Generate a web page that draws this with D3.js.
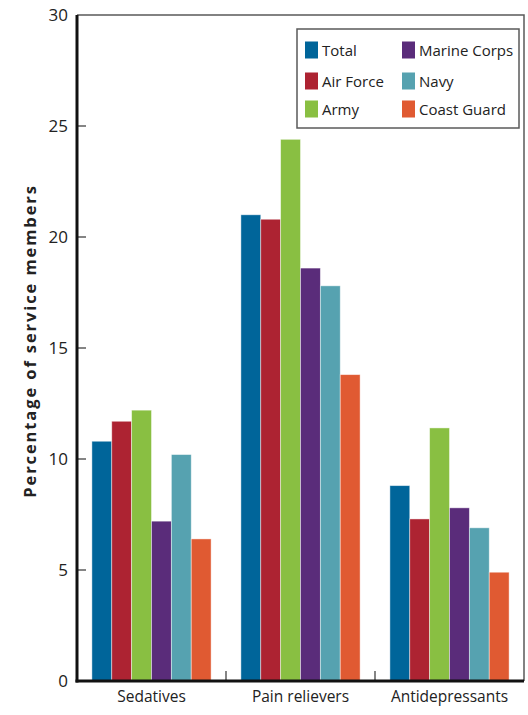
<!DOCTYPE html>
<html>
<head>
<meta charset="utf-8">
<script src="https://cdn.jsdelivr.net/npm/d3@7"></script>
<style>
  html, body { margin: 0; padding: 0; background: #fff; }
  svg { display: block; font-family: "Open Sans", "DejaVu Sans", sans-serif; }
</style>
</head>
<body>
<svg id="chart" width="528" height="715"></svg>
<script>
// Prescription drug misuse by branch of service (percent of service members)
const categories = ["Sedatives", "Pain relievers", "Antidepressants"];
const branches = ["Total", "Air Force", "Army", "Marine Corps", "Navy", "Coast Guard"];
const colors = ["#00659a", "#ad2332", "#89bf42", "#5a2c7a", "#56a2b0", "#e05a32"];

const total       = [10.8, 21.0, 8.8];
const airForce    = [11.7, 20.8, 7.3];
const army        = [12.2, 24.4, 11.4];
const marineCorps = [7.2, 18.6, 7.8];
const navy        = [10.2, 17.8, 6.9];
const coastGuard  = [6.4, 13.8, 4.9];

const yTicks = [0, 5, 10, 15, 20, 25, 30];

const series = [total, airForce, army, marineCorps, navy, coastGuard];

const svg = d3.select("#chart");
const plotLeft = 77, plotRight = 524, plotTop = 15, plotBottom = 681;

const x0 = d3.scaleBand().domain(categories).range([plotLeft, plotRight])
  .paddingInner(0.2).paddingOuter(0.1);
const x1 = d3.scaleBand().domain(branches).range([0, x0.bandwidth()]);
const y = d3.scaleLinear().domain([0, 30]).range([plotBottom, plotTop]);

// Frame on top and right
svg.append("path")
  .attr("d", `M${plotLeft},${plotTop}H${plotRight}V${plotBottom}`)
  .attr("fill", "none").attr("stroke", "#5a5a5a").attr("stroke-width", 1.5);

// Bars
const groups = svg.append("g").selectAll("g")
  .data(categories).join("g")
  .attr("transform", d => `translate(${x0(d)},0)`);

groups.selectAll("rect")
  .data((c, ci) => branches.map((b, bi) => ({ b, bi, v: series[bi][ci] })))
  .join("rect")
  .attr("x", d => x1(d.b))
  .attr("y", d => y(d.v))
  .attr("width", x1.bandwidth())
  .attr("height", d => y(0) - y(d.v))
  .attr("fill", d => colors[d.bi])
  .attr("stroke", "rgba(255,255,255,0.55)")
  .attr("stroke-width", 0.8);

// Y axis
const yAxis = d3.axisLeft(y).tickValues(yTicks).tickSize(0).tickPadding(9);
const gy = svg.append("g").attr("transform", `translate(${plotLeft},0)`).call(yAxis);
gy.select(".domain").remove();
gy.selectAll("text").attr("font-size", 17).attr("fill", "#222")
  .attr("font-family", "'Open Sans', sans-serif");
svg.append("g").selectAll("line")
  .data(yTicks.slice(1, -1)).join("line")
  .attr("x1", plotLeft).attr("x2", plotLeft + 9)
  .attr("y1", d => y(d)).attr("y2", d => y(d))
  .attr("stroke", "#333").attr("stroke-width", 1.2);

// Group separators on the x axis
const seps = categories.slice(1).map(c => x0(c) - x0.step() * x0.paddingInner() / 2);
svg.append("g").selectAll("line")
  .data(seps).join("line")
  .attr("x1", d => d).attr("x2", d => d)
  .attr("y1", plotBottom).attr("y2", plotBottom - 10)
  .attr("stroke", "#333").attr("stroke-width", 1.2);

// Axis lines
svg.append("line").attr("x1", plotLeft).attr("x2", plotLeft)
  .attr("y1", plotTop).attr("y2", plotBottom + 1.5)
  .attr("stroke", "#111").attr("stroke-width", 3);
svg.append("line").attr("x1", plotLeft - 1.5).attr("x2", plotRight)
  .attr("y1", plotBottom).attr("y2", plotBottom)
  .attr("stroke", "#111").attr("stroke-width", 3);

// Category labels
const xAxis = d3.axisBottom(x0).tickSize(0).tickPadding(10);
const gx = svg.append("g").attr("transform", `translate(0,${plotBottom})`).call(xAxis);
gx.select(".domain").remove();
gx.selectAll("text").attr("font-size", 15.5).attr("fill", "#222")
  .attr("font-family", "'Open Sans', sans-serif");

// Y axis title
svg.append("text")
  .attr("transform", `translate(36,${(177 + 505) / 2}) rotate(-90)`)
  .attr("text-anchor", "middle")
  .attr("font-size", 16.5).attr("font-weight", "bold").attr("fill", "#222")
  .attr("letter-spacing", 1.9)
  .text("Percentage of service members");

// Legend
const lg = svg.append("g");
lg.append("rect").attr("x", 297).attr("y", 29).attr("width", 222).attr("height", 99)
  .attr("fill", "#fff").attr("stroke", "#5a5a5a").attr("stroke-width", 1.5);
const items = lg.selectAll("g").data(branches).join("g")
  .attr("transform", (d, i) => `translate(${i < 3 ? 305 : 402},${[50, 81, 109][i % 3]})`);
items.append("rect").attr("x", 0).attr("y", -8.5).attr("width", 13).attr("height", 17)
  .attr("fill", (d, i) => colors[i]);
items.append("text").attr("x", 17).attr("y", 6)
  .attr("font-size", 15).attr("fill", "#222")
  .text(d => d);
</script>
</body>
</html>
